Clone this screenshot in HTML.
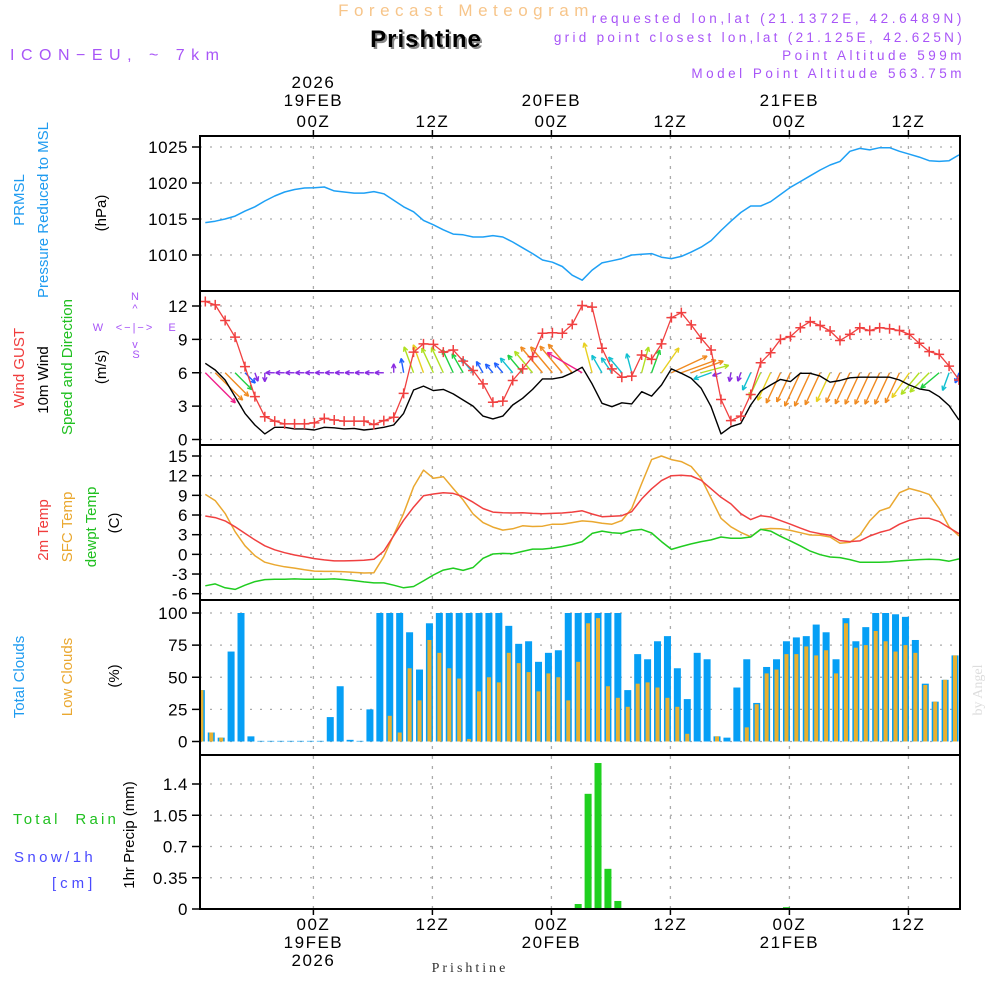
<!DOCTYPE html>
<html><head><meta charset="utf-8">
<style>
html,body{margin:0;padding:0;background:#fff;}
svg{display:block;font-family:"Liberation Sans",sans-serif;}
</style></head>
<body>
<svg id="chart" width="1000" height="1000" viewBox="0 0 1000 1000">
  <rect x="0" y="0" width="1000" height="1000" fill="#fff"/>
  <g id="grid"></g>
  <g id="marks"></g>
  <g id="frames"></g>
  <g id="texts">
    <text x="466" y="16" font-size="17" fill="#f7c58a" text-anchor="middle" letter-spacing="5.5">Forecast Meteogram</text>
    <text x="428" y="49" font-size="24" font-weight="bold" fill="#888" text-anchor="middle" letter-spacing="1">Prishtine</text>
    <text x="426" y="47" font-size="24" font-weight="bold" fill="#000" text-anchor="middle" letter-spacing="1">Prishtine</text>
    <text x="10" y="60" font-size="16" fill="#a855f7" letter-spacing="6.5">ICON−EU, ~ 7km</text>
    <text x="965" y="23" font-size="13.5" fill="#a855f7" text-anchor="end" letter-spacing="3.6">requested lon,lat (21.1372E, 42.6489N)</text>
    <text x="965" y="42" font-size="13.5" fill="#a855f7" text-anchor="end" letter-spacing="3.3">grid point closest lon,lat (21.125E, 42.625N)</text>
    <text x="965" y="60" font-size="13.5" fill="#a855f7" text-anchor="end" letter-spacing="3.5">Point Altitude 599m</text>
    <text x="965" y="78" font-size="13.5" fill="#a855f7" text-anchor="end" letter-spacing="3.5">Model Point Altitude 563.75m</text>

    <text transform="translate(24,200) rotate(-90)" font-size="15" fill="#1e9bf0" text-anchor="middle">PRMSL</text>
    <text transform="translate(48,210) rotate(-90)" font-size="15" fill="#1e9bf0" text-anchor="middle">Pressure Reduced to MSL</text>
    <text transform="translate(106,213) rotate(-90)" font-size="15" fill="#000" text-anchor="middle">(hPa)</text>

    <text transform="translate(24,368) rotate(-90)" font-size="15" fill="#f03c3c" text-anchor="middle">Wind GUST</text>
    <text transform="translate(48,380) rotate(-90)" font-size="15" fill="#000" text-anchor="middle">10m Wind</text>
    <text transform="translate(72,367) rotate(-90)" font-size="15" fill="#20c020" text-anchor="middle">Speed and Direction</text>
    <text transform="translate(106,367) rotate(-90)" font-size="15" fill="#000" text-anchor="middle">(m/s)</text>
    <g font-size="11" fill="#a855f7">
      <text x="135" y="300" text-anchor="middle">N</text>
      <text x="135" y="312" text-anchor="middle">^</text>
      <text x="98" y="331" text-anchor="middle">W</text>
      <text x="135" y="331" text-anchor="middle" letter-spacing="2">&lt;−|−&gt;</text>
      <text x="172" y="331" text-anchor="middle">E</text>
      <text x="135" y="348" text-anchor="middle">v</text>
      <text x="136" y="358" text-anchor="middle">S</text>
    </g>

    <text transform="translate(48,530) rotate(-90)" font-size="15" fill="#f03c3c" text-anchor="middle">2m Temp</text>
    <text transform="translate(72,527) rotate(-90)" font-size="15" fill="#eaa830" text-anchor="middle">SFC Temp</text>
    <text transform="translate(96,527) rotate(-90)" font-size="15" fill="#20c020" text-anchor="middle">dewpt Temp</text>
    <text transform="translate(119,523) rotate(-90)" font-size="15" fill="#000" text-anchor="middle">(C)</text>

    <text transform="translate(24,677) rotate(-90)" font-size="15" fill="#1e9bf0" text-anchor="middle">Total Clouds</text>
    <text transform="translate(72,677) rotate(-90)" font-size="15" fill="#eaa830" text-anchor="middle">Low Clouds</text>
    <text transform="translate(119,676) rotate(-90)" font-size="15" fill="#000" text-anchor="middle">(%)</text>

    <text x="13" y="824" font-size="15" fill="#20c020" letter-spacing="3.2" xml:space="preserve">Total  Rain</text>
    <text x="14" y="862" font-size="15" fill="#4a4aff" letter-spacing="3.4">Snow/1h</text>
    <text x="52" y="888" font-size="15" fill="#4a4aff" letter-spacing="4">[cm]</text>
    <text transform="translate(134,835) rotate(-90)" font-size="15" fill="#000" text-anchor="middle">1hr Precip (mm)</text>

    <text transform="translate(982,690) rotate(-90)" font-size="14" fill="#ddd" font-family="Liberation Serif, serif" text-anchor="middle">by Angel</text>
    <text x="470" y="972" font-size="14" fill="#333" font-family="Liberation Serif, serif" text-anchor="middle" letter-spacing="3">Prishtine</text>
  </g>
</svg>
<script>
// ---- data ----
const tickHours = [0, 12, 24, 36, 48, 60];
const tickTopTime = ["00Z", "12Z", "00Z", "12Z", "00Z", "12Z"];
const tickTopDate = ["19FEB", "", "20FEB", "", "21FEB", ""];
const tickTopYear = ["2026", "", "", "", "", ""];
const pressure = [1014.5,1014.7,1015.0,1015.4,1016.1,1016.7,1017.5,1018.2,1018.75,1019.1,1019.3,1019.35,1019.45,1018.9,1018.75,1018.6,1018.6,1018.8,1018.5,1017.6,1016.7,1016.0,1014.8,1014.2,1013.5,1012.9,1012.8,1012.5,1012.5,1012.7,1012.5,1011.8,1011.0,1010.2,1009.3,1009.0,1008.4,1007.2,1006.5,1007.9,1008.9,1009.2,1009.5,1010.0,1010.1,1010.2,1009.7,1009.5,1009.8,1010.4,1011.1,1012.0,1013.4,1014.7,1015.9,1016.8,1016.8,1017.4,1018.4,1019.4,1020.2,1021.0,1021.8,1022.5,1023.0,1024.4,1024.8,1024.6,1024.9,1024.9,1024.4,1024.0,1023.6,1023.1,1023.0,1023.1,1023.9];
const pressureTicks = [1010, 1015, 1020, 1025];
const gust = [12.4,12.1,10.7,9.2,6.55,3.85,2.05,1.65,1.4,1.4,1.4,1.5,1.9,1.75,1.65,1.65,1.65,1.35,1.7,2.0,4.15,7.85,8.6,8.55,7.85,8.05,7.05,6.2,5.0,3.35,3.45,5.3,6.35,7.45,9.55,9.6,9.55,10.35,12.05,11.9,8.2,6.35,5.6,5.7,7.6,7.2,8.6,10.95,11.4,10.3,9.1,8.05,3.6,1.7,2.1,4.05,6.9,7.8,9.0,9.25,10.05,10.6,10.25,9.75,8.9,9.45,10.05,9.8,10.05,9.95,9.8,9.45,8.65,7.9,7.65,6.6,5.35];
const wind10 = [6.85,6.25,5.35,3.85,2.35,1.3,0.5,1.1,1.1,0.95,0.95,0.85,1.1,1.05,0.95,1.0,0.85,0.95,1.1,1.3,2.35,4.45,4.8,4.4,4.5,4.1,3.55,3.0,2.1,1.85,2.1,3.1,3.7,4.5,5.45,5.45,5.6,6.0,6.5,5.0,3.25,2.95,3.3,3.2,4.3,3.9,4.9,6.35,5.95,5.5,4.6,2.95,0.5,1.15,1.45,3.1,4.35,4.9,5.4,5.2,5.95,5.95,5.7,5.15,5.3,5.55,5.6,5.6,5.6,5.6,5.35,4.9,4.55,4.4,3.85,3.05,1.75];
const windDir = [135,135,135,135,135,160,180,270,270,270,270,270,270,270,270,270,270,270,270,0,350,340,340,335,335,335,330,320,330,320,320,320,320,320,320,320,320,320,300,345,330,325,320,345,15,20,35,65,70,70,75,250,250,190,200,205,205,205,205,205,205,205,205,205,205,205,205,205,205,205,205,215,220,225,230,200,200];
const windTicks = [0, 3, 6, 9, 12];
const temp2m = [5.85,5.6,5.1,4.2,3.2,2.2,1.3,0.7,0.25,-0.1,-0.35,-0.65,-0.85,-1.0,-1.0,-0.95,-0.9,-0.75,0.5,2.85,5.2,7.2,8.95,9.2,9.4,9.3,8.8,7.95,7.0,6.45,6.35,6.3,6.35,6.25,6.2,6.25,6.3,6.45,6.65,6.15,5.75,5.8,5.9,6.5,8.45,10.0,11.25,12.0,12.05,11.95,11.3,10.0,8.7,7.7,6.2,5.3,5.9,5.7,5.15,4.6,4.0,3.45,3.15,2.9,2.1,1.95,2.05,2.8,3.35,3.75,4.6,5.2,5.5,5.5,5.0,4.05,3.15];
const tempSfc = [9.15,8.2,6.25,3.45,1.3,-0.2,-1.2,-1.6,-1.9,-2.1,-2.35,-2.55,-2.6,-2.6,-2.65,-2.75,-2.85,-2.8,-0.35,2.95,6.25,10.3,12.85,11.6,11.85,10.05,8.3,6.15,4.85,4.15,3.7,3.9,4.35,4.25,4.3,4.6,4.6,4.85,5.1,5.0,4.75,4.6,5.15,7.0,10.8,14.45,15.0,14.45,14.15,13.4,11.6,8.55,5.5,4.2,3.35,2.7,3.8,3.95,3.9,3.65,3.3,2.95,2.9,2.65,1.7,1.85,2.9,5.1,6.65,7.15,9.4,10.05,9.65,9.15,7.0,4.2,2.8];
const dewpt = [-4.8,-4.5,-5.1,-5.35,-4.7,-4.15,-3.85,-3.8,-3.8,-3.75,-3.8,-3.8,-3.8,-3.75,-3.85,-4.0,-4.2,-4.35,-4.35,-4.7,-5.1,-4.9,-4.05,-3.15,-2.4,-2.1,-2.45,-2.0,-0.6,0.05,0.15,0.1,0.45,0.8,0.8,0.95,1.2,1.5,1.95,3.2,3.55,3.3,3.2,3.65,3.8,3.25,1.95,0.75,1.2,1.6,1.95,2.2,2.65,2.45,2.45,2.65,3.8,3.55,2.75,2.05,1.3,0.5,-0.05,-0.4,-0.5,-0.8,-1.2,-1.2,-1.2,-1.15,-1.0,-0.9,-0.8,-0.75,-0.8,-1.05,-0.7];
const tempTicks = [-6, -3, 0, 3, 6, 9, 12, 15];
const totalClouds = [40,7,3,70,100,4,0.5,0.5,0.5,0.5,0.5,0.5,0.5,19,43,1.3,0.5,25,100,100,100,85,56,92,100,100,100,100,100,100,100,90,76,78,62,69,71,100,100,100,100,100,100,40,68,64,78,82,57,33,69,64,4,3,42,64,30,58,64,78,81,82,91,85,64,96,78,89,100,100,99,97,79,45,31,48,67];
const lowClouds = [40,7,3,0,0,0,0,0,0,0,0,0,0,0,0,0,0,0,0,20,7,57,32,79,69,57,49,2,39,50,46,69,61,54,39,53,50,32,62,92,96,43,34,27,45,46,42,34,27,6,0,0,4,0,0,11,29,53,56,68,68,74,67,71,53,92,73,75,86,78,70,75,69,44,31,48,67];
const cloudTicks = [0, 25, 50, 75, 100];
const precipHour = [38, 39, 40, 41, 42, 59, 61];
const precipVal = [0.056, 1.29, 1.635, 0.45, 0.09, 0.02, 0.01];
const precipTicks = [0, 0.35, 0.7, 1.05, 1.4];
const precipTickLabels = ["0", "0.35", "0.7", "1.05", "1.4"];

// ---- layout ----
const X0 = 200, X1 = 960;
const panels = [
  {top:136, bot:291}, {top:291, bot:445}, {top:445, bot:600}, {top:600, bot:755}, {top:755, bot:909}
];
const NS = "http://www.w3.org/2000/svg";
const gGrid = document.getElementById('grid');
const gMarks = document.getElementById('marks');
const gFrames = document.getElementById('frames');
function mk(tag, attrs, parent){ const e=document.createElementNS(NS,tag); for(const k in attrs) e.setAttribute(k,attrs[k]); parent.appendChild(e); return e; }

function tx(h){ return 313.4 + 9.917*h; }
function lineX(i){ return tx(i - 10.9); }
function barX(k){ return tx(k - 11.3); }
function lin(v0,v1,y0,y1){ return v => y0 + (v - v0) * (y1 - y0) / (v1 - v0); }
const yP = lin(1010, 1025, 255, 147);
const yW = lin(0, 12, 439.5, 306);
const yT = lin(-6, 15, 593.7, 456);
const yC = lin(0, 100, 741.5, 613);
const yR = lin(0, 1.4, 909, 784);

function hGrid(ticks, yf, labels, name){
  ticks.forEach((t,j)=>{
    const y=yf(t);
    const l=mk('line',{x1:X0,x2:X1,y1:y,y2:y,stroke:'#aaa','stroke-width':1.3,'stroke-dasharray':'2 8'},gGrid);
    
    
    mk('line',{x1:X0-8,x2:X0,y1:y,y2:y,stroke:'#000','stroke-width':1.5},gFrames);
    const tl=mk('text',{x:X0-12,y:y+6,'font-size':17,'text-anchor':'end',fill:'#000','letter-spacing':0.5},gFrames);
    tl.textContent = labels ? labels[j] : String(t);
    
    
  });
}
hGrid(pressureTicks, yP, null, 'pressure');
hGrid(windTicks, yW, null, 'wind');
hGrid(tempTicks, yT, null, 'temp');
hGrid(cloudTicks, yC, null, 'cloud');
hGrid(precipTicks, yR, precipTickLabels, 'precip');

tickHours.forEach((h,j)=>{
  const x=tx(h);
  const l=mk('line',{x1:x,x2:x,y1:136,y2:909,stroke:'#aaa','stroke-width':1.3,'stroke-dasharray':'3 7'},gGrid);
  
  
  mk('line',{x1:x,x2:x,y1:130,y2:136,stroke:'#000','stroke-width':1.5},gFrames);
  mk('line',{x1:x,x2:x,y1:909,y2:915,stroke:'#000','stroke-width':1.5},gFrames);
  const rows=[[tickTopYear[j],88],[tickTopDate[j],106],[tickTopTime[j],127]];
  rows.forEach(r=>{ if(!r[0]) return;
    const t=mk('text',{x:x,y:r[1],'font-size':17,'text-anchor':'middle',fill:'#000','letter-spacing':1.5},gFrames);
    t.textContent=r[0];
    
    
  });
  const rowsB=[[tickTopTime[j],930],[tickTopDate[j],948],[tickTopYear[j],966]];
  rowsB.forEach(r=>{ if(!r[0]) return;
    const t=mk('text',{x:x,y:r[1],'font-size':17,'text-anchor':'middle',fill:'#000','letter-spacing':1.5},gFrames);
    t.textContent=r[0];
    
    
  });
});

panels.forEach((p,j)=>{
  const r=mk('rect',{x:X0,y:p.top,width:X1-X0,height:p.bot-p.top,fill:'none',stroke:'#000','stroke-width':2},gFrames);
  
  
});

const defs=mk('defs',{},document.getElementById('chart'));
const cp=mk('clipPath',{id:'plotclip'},defs);
mk('rect',{x:X0,y:136,width:X1-X0,height:773},cp);
gMarks.setAttribute('clip-path','url(#plotclip)');

function polyline(vals, yf, color, name, width){
  const pts=vals.map((v,i)=>lineX(i).toFixed(1)+','+yf(v).toFixed(1)).join(' ');
  const p=mk('polyline',{points:pts,fill:'none',stroke:color,'stroke-width':width||1.5,'stroke-linejoin':'round'},gMarks);
  
  
}

polyline(pressure, yP, '#1ea0f5', 'pressure-line');

totalClouds.forEach((v,k)=>{
  const x=barX(k), y=yC(v);
  const b=mk('rect',{x:x-3.5,y:y,width:7,height:yC(0)-y,fill:'#069ff5'},gMarks);
  
  
});
lowClouds.forEach((v,k)=>{
  const x=barX(k), y=yC(v);
  const b=mk('rect',{x:x-2,y:y,width:4,height:yC(0)-y,fill:'#e8b030'},gMarks);
  
  
});

precipHour.forEach((k,j)=>{
  const x=barX(k), y=yR(precipVal[j]);
  const b=mk('rect',{x:x-3.5,y:y,width:7,height:yR(0)-y,fill:'#1fd01f'},gMarks);
  
  
});

function speedColor(s){
  if(s<1.6) return '#8a2be2';
  if(s<2.6) return '#2060ff';
  if(s<3.4) return '#10c0d0';
  if(s<4.2) return '#20d040';
  if(s<4.8) return '#b0e020';
  if(s<5.2) return '#e8d020';
  if(s<6.4) return '#f08a20';
  return '#f0208a';
}
wind10.forEach((s,i)=>{
  const x=lineX(i), y=yW(6);
  const a=windDir[i]*Math.PI/180;
  const len=Math.max(9, 6.2*s);
  const ex=x+Math.sin(a)*len, ey=y-Math.cos(a)*len;
  const c=speedColor(s);
  const g=mk('g',{stroke:c,'stroke-width':1.4,fill:'none'},gMarks);
  
  
  mk('line',{x1:x,y1:y,x2:ex,y2:ey},g);
  const h=5;
  [a+Math.PI-0.45, a+Math.PI+0.45].forEach(b=>{
    mk('line',{x1:ex,y1:ey,x2:ex+Math.sin(b)*h,y2:ey-Math.cos(b)*h},g);
  });
});

polyline(wind10, yW, '#000', 'wind10m-line', 1.4);
polyline(gust, yW, '#f04040', 'gust-line', 1.3);
gust.forEach((v,i)=>{
  const x=lineX(i), y=yW(v);
  const m=mk('path',{d:`M${x-5},${y}H${x+5}M${x},${y-5}V${y+5}`,stroke:'#f04040','stroke-width':1.5},gMarks);
  
  
});

polyline(tempSfc, yT, '#eaa830', 'sfc-temp-line');
polyline(temp2m, yT, '#f04040', 'temp2m-line');
polyline(dewpt, yT, '#20cc20', 'dewpt-line');
</script>
</body></html>
